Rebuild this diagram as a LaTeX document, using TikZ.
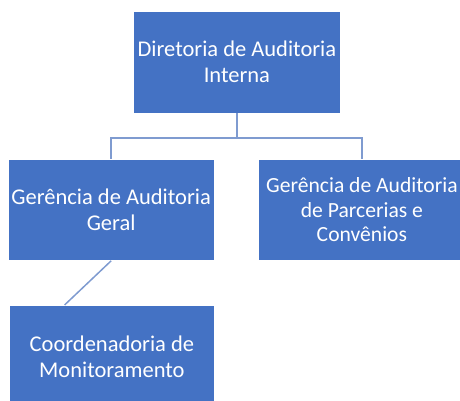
\documentclass[tikz,border=0pt]{standalone}
\usepackage{fontspec}
\setmainfont{Carlito}
\usetikzlibrary{calc}
\definecolor{boxblue}{HTML}{4472C4}
\definecolor{linkblue}{HTML}{7F9BD0}
\tikzset{
  orgbox/.style={draw=white, line width=0.8pt, fill=boxblue, text=white, align=center,
    anchor=north west, inner sep=2pt, minimum width=207pt, minimum height=102pt,
    font=\fontsize{22.5}{25.5}\selectfont},
  link/.style={draw=linkblue, line width=1.5pt}
}
\begin{document}
\begin{tikzpicture}[x=1pt,y=-1pt]
\useasboundingbox (0,0) rectangle (460,400);
\clip (0,0) rectangle (460,400);
\node[orgbox] (top) at (133,10.5) {Diretoria de Auditoria\\Interna};
\node[orgbox, minimum width=206.5pt, minimum height=101pt] (left) at (7.5,159) {Gerência de Auditoria\\Geral};
\node[orgbox, minimum height=101pt, font=\fontsize{21.6}{24.5}\selectfont] (right) at (258,159) {Gerência de Auditoria\\de Parcerias e\\Convênios};
\node[orgbox, minimum width=205pt, minimum height=103pt] (bottom) at (9,305) {Coordenadoria de\\Monitoramento};
\coordinate (bend) at ($(top.south)+(0,24.5)$);
\draw[link] (top.south) -- (bend) -| (left.north);
\draw[link] (bend) -| (right.north);
\coordinate (diagend) at ($(bottom.north west)!0.27!(bottom.north east)$);
\draw[link] (left.south) -- (diagend);
\end{tikzpicture}
\end{document}
